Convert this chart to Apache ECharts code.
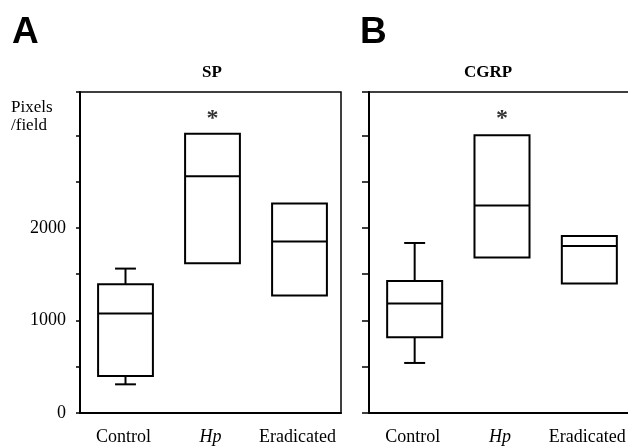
<!DOCTYPE html>
<html>
<head>
<meta charset="utf-8">
<script src="https://cdn.jsdelivr.net/npm/echarts@6/dist/echarts.min.js"></script>
<style>
  html, body { margin: 0; padding: 0; background: #fff; }
  #chart { width: 628px; height: 446px; }
</style>
</head>
<body>
<div id="chart"></div>
<script>
'use strict';

const categories = ['Control', 'Hp', 'Eradicated'];
// [min, Q1, median, Q3, max]
const spBoxes = [
  [310, 400, 1075, 1391, 1561],
  [1618, 1618, 2559, 3020, 3020],
  [1269, 1269, 1853, 2264, 2264]
];
const cgrpBoxes = [
  [541, 818, 1183, 1427, 1838],
  [1680, 1680, 2242, 3002, 3002],
  [1399, 1399, 1805, 1914, 1914]
];
const starMarks = [null, 3250, null];
const yLabels = [0, 1000, 2000];

const serif = '"Liberation Serif", "Times New Roman", serif';

function boxData(boxes) {
  return boxes.map((b, i) => [i].concat(b));
}

function renderBox(params, api) {
  const i = api.value(0);
  const lo = api.coord([i, api.value(1)]);
  const q1 = api.coord([i, api.value(2)]);
  const md = api.coord([i, api.value(3)]);
  const q3 = api.coord([i, api.value(4)]);
  const hi = api.coord([i, api.value(5)]);
  const band = api.size([1, 0])[0];
  const bw = band * 0.63;
  const cw = band * 0.24;
  const x = md[0] + 2;
  const st = { stroke: '#000', lineWidth: 2, fill: null };
  const children = [
    { type: 'rect', shape: { x: x - bw / 2, y: q3[1], width: bw, height: q1[1] - q3[1] },
      style: { stroke: '#000', lineWidth: 2, fill: '#fff' } },
    { type: 'line', shape: { x1: x - bw / 2, y1: md[1], x2: x + bw / 2, y2: md[1] }, style: st }
  ];
  if (hi[1] < q3[1] - 0.5) {
    children.push({ type: 'line', shape: { x1: x, y1: q3[1], x2: x, y2: hi[1] }, style: st });
    children.push({ type: 'line', shape: { x1: x - cw / 2, y1: hi[1], x2: x + cw / 2, y2: hi[1] }, style: st });
  }
  if (lo[1] > q1[1] + 0.5) {
    children.push({ type: 'line', shape: { x1: x, y1: q1[1], x2: x, y2: lo[1] }, style: st });
    children.push({ type: 'line', shape: { x1: x - cw / 2, y1: lo[1], x2: x + cw / 2, y2: lo[1] }, style: st });
  }
  return { type: 'group', children: children };
}

function makeXAxis(gridIndex) {
  return {
    type: 'category',
    gridIndex: gridIndex,
    data: categories,
    axisLine: { lineStyle: { color: '#000', width: 2 } },
    axisTick: { show: false },
    axisLabel: {
      interval: 0,
      hideOverlap: false,
      margin: 15,
      color: '#000',
      fontFamily: serif,
      fontSize: 18,
      formatter: function (v) {
        return v === 'Hp' ? '{i|Hp}' : v;
      },
      rich: {
        i: { fontStyle: 'italic', fontFamily: serif, fontSize: 18, color: '#000' }
      }
    },
    splitLine: { show: false }
  };
}

function makeYAxis(gridIndex, showLabels, tickLen) {
  return {
    type: 'value',
    gridIndex: gridIndex,
    min: 0,
    max: 3470,
    interval: 500,
    axisLine: { show: true, lineStyle: { color: '#000', width: 2 } },
    axisTick: { show: true, length: tickLen, lineStyle: { color: '#000', width: 1.5 } },
    axisLabel: {
      show: showLabels,
      margin: 14,
      color: '#000',
      fontFamily: serif,
      fontSize: 18,
      formatter: function (v) {
        return yLabels.indexOf(v) >= 0 ? String(v) : '';
      }
    },
    splitLine: { show: false }
  };
}

function starSeries(idx) {
  return {
    type: 'scatter',
    xAxisIndex: idx,
    yAxisIndex: idx,
    symbolSize: 0,
    data: starMarks.map((v, i) => [i, v]).filter(d => d[1] !== null),
    label: {
      show: true,
      position: 'inside',
      formatter: '*',
      offset: [2, 6],
      color: '#000',
      fontFamily: serif,
      fontWeight: 'bold',
      fontSize: 24
    },
    silent: true
  };
}

const chart = echarts.init(document.getElementById('chart'), null, { renderer: 'canvas' });
const option = {
  animation: false,
  backgroundColor: '#fff',
  grid: [
    { left: 80, width: 261, top: 92, bottom: 33, containLabel: false, outerBoundsMode: 'none',
      show: true, borderColor: '#000', borderWidth: 1.5, backgroundColor: 'transparent' },
    { left: 369, right: -3, top: 92, bottom: 33, containLabel: false, outerBoundsMode: 'none',
      show: true, borderColor: '#000', borderWidth: 1.5, backgroundColor: 'transparent' }
  ],
  xAxis: [makeXAxis(0), makeXAxis(1)],
  yAxis: [makeYAxis(0, true, 4), makeYAxis(1, false, 7)],
  series: [
    {
      type: 'custom',
      xAxisIndex: 0,
      yAxisIndex: 0,
      renderItem: renderBox,
      encode: { x: 0, y: [1, 2, 3, 4, 5] },
      data: boxData(spBoxes)
    },
    {
      type: 'custom',
      xAxisIndex: 1,
      yAxisIndex: 1,
      renderItem: renderBox,
      encode: { x: 0, y: [1, 2, 3, 4, 5] },
      data: boxData(cgrpBoxes)
    },
    starSeries(0),
    starSeries(1)
  ],
  graphic: [
    { type: 'text', x: 12, y: 33, style: { text: 'A', font: 'bold 37px "Liberation Sans", Arial, sans-serif', fill: '#000', textVerticalAlign: 'middle' } },
    { type: 'text', x: 360, y: 33, style: { text: 'B', font: 'bold 37px "Liberation Sans", Arial, sans-serif', fill: '#000', textVerticalAlign: 'middle' } },
    { type: 'text', x: 212, y: 73, style: { text: 'SP', font: 'bold 17px ' + serif, fill: '#000', textAlign: 'center', textVerticalAlign: 'middle' } },
    { type: 'text', x: 488, y: 73, style: { text: 'CGRP', font: 'bold 17px ' + serif, fill: '#000', textAlign: 'center', textVerticalAlign: 'middle' } },
    { type: 'text', x: 11, y: 108, style: { text: 'Pixels', font: '17px ' + serif, fill: '#000', textVerticalAlign: 'middle' } },
    { type: 'text', x: 11, y: 126, style: { text: '/field', font: '17px ' + serif, fill: '#000', textVerticalAlign: 'middle' } }
  ]
};
chart.setOption(option);
</script>
</body>
</html>
